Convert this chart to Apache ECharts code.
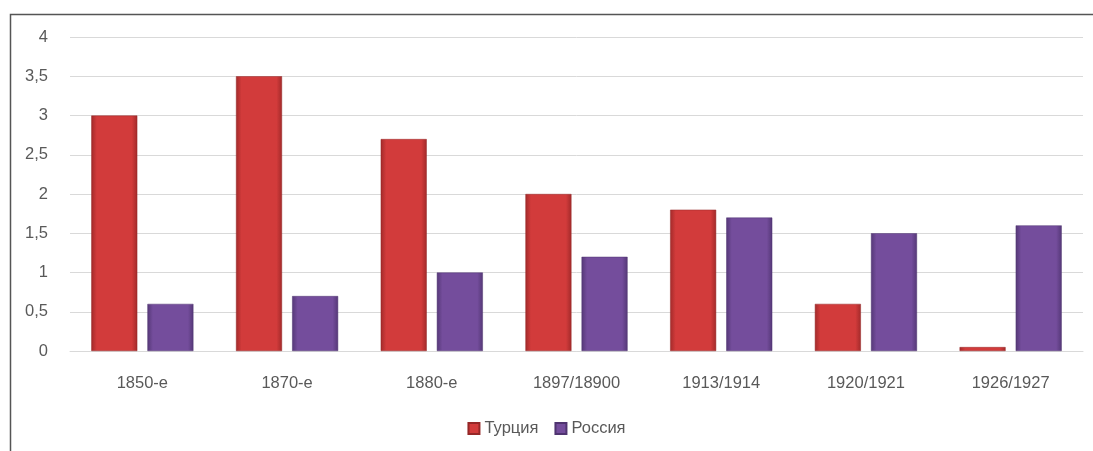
<!DOCTYPE html>
<html>
<head>
<meta charset="utf-8">
<script src="https://cdn.jsdelivr.net/npm/echarts@6/dist/echarts.min.js"></script>
<style>
  html, body { margin: 0; padding: 0; background: #fff; }
  #chart { width: 1093px; height: 451px; }
</style>
</head>
<body>
<div id="chart"></div>
<script>
const categories = ['1850-е', '1870-е', '1880-е', '1897/18900', '1913/1914', '1920/1921', '1926/1927'];
const turkey = [3, 3.5, 2.7, 2, 1.8, 0.6, 0.05];
const russia = [0.6, 0.7, 1.0, 1.2, 1.7, 1.5, 1.6];

const font = '"Liberation Sans", "DejaVu Sans", sans-serif';

// horizontal gradient to mimic the bevelled bars
function bevel(dark, mid) {
    return new echarts.graphic.LinearGradient(0, 0, 1, 0, [
        {offset: 0, color: dark},
        {offset: 0.12, color: mid},
        {offset: 0.88, color: mid},
        {offset: 1, color: dark}
    ]);
}

const chart = echarts.init(document.getElementById('chart'));
chart.setOption({
    animation: false,
    backgroundColor: '#fff',
    textStyle: {fontFamily: font},
    graphic: [{
        type: 'rect',
        shape: {x: 10.5, y: 14.5, width: 1100, height: 500},
        style: {fill: 'none', stroke: '#555', lineWidth: 1.5},
        silent: true
    }],
    grid: {left: 70, right: 10, top: 37, bottom: 100},
    legend: {
        bottom: 9,
        left: 'center',
        itemWidth: 11,
        itemHeight: 11,
        itemGap: 16,
        icon: 'rect',
        textStyle: {color: '#595959', fontSize: 16.5, fontFamily: font},
        data: ['Турция', 'Россия']
    },
    xAxis: {
        type: 'category',
        data: categories,
        axisLine: {lineStyle: {color: '#d9d9d9', width: 1}},
        axisTick: {show: false},
        axisLabel: {color: '#595959', fontSize: 16.5, margin: 24}
    },
    yAxis: {
        type: 'value',
        min: 0,
        max: 4,
        interval: 0.5,
        axisLine: {show: false},
        axisTick: {show: false},
        splitLine: {lineStyle: {color: '#d9d9d9', width: 1}},
        axisLabel: {
            color: '#595959',
            fontSize: 16.5,
            margin: 22,
            formatter: v => String(v).replace('.', ',')
        }
    },
    series: [{
        name: 'Турция',
        type: 'bar',
        data: turkey,
        barWidth: 46,
        barGap: '22%',
        itemStyle: {
            color: bevel('#a22a2a', '#d23b3b'),
            borderColor: '#952727',
            borderWidth: 0.5
        }
    }, {
        name: 'Россия',
        type: 'bar',
        data: russia,
        barWidth: 46,
        itemStyle: {
            color: bevel('#553877', '#744d9c'),
            borderColor: '#4f3470',
            borderWidth: 0.5
        }
    }]
});
</script>
</body>
</html>
